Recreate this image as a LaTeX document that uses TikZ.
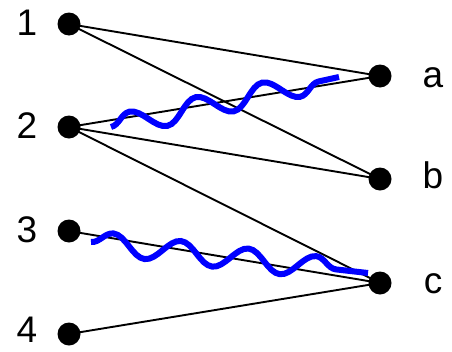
\documentclass[tikz,border=0pt]{standalone}
\usepackage{fontspec}
\setmainfont{Liberation Sans}
\usetikzlibrary{decorations.pathmorphing}

\begin{document}
\begin{tikzpicture}[x=1pt,y=-1pt,
  dot/.style={circle,fill=black,inner sep=0pt,minimum size=23pt},
  lbl/.style={anchor=base,inner sep=0pt,font=\fontsize{37}{37}\selectfont},
  edge/.style={black,line width=1.9pt},
  wave/.style={blue,line width=6pt,decorate,decoration={snake,segment length=68pt,amplitude=11pt}}]
  \useasboundingbox (0,0) rectangle (452,351);
  \node[dot] (n1) at (69,24) {};
  \node[dot] (n2) at (69,127) {};
  \node[dot] (n3) at (69,231) {};
  \node[dot] (n4) at (69,334) {};
  \node[dot] (na) at (380,76) {};
  \node[dot] (nb) at (380,179) {};
  \node[dot] (nc) at (380,283) {};
  \node[lbl] (l1) at (27,35) {1};
  \node[lbl] (l2) at (27,138) {2};
  \node[lbl] (l3) at (27,242) {3};
  \node[lbl] (l4) at (27,342) {4};
  \node[lbl] (la) at (433,87) {a};
  \node[lbl] (lb) at (433,188) {b};
  \node[lbl] (lc) at (433,293) {c};
  \draw[edge] (n1.center) -- (na.center);
  \draw[edge] (n1.center) -- (nb.center);
  \draw[edge] (n2.center) -- (na.center);
  \draw[edge] (n2.center) -- (nb.center);
  \draw[edge] (n2.center) -- (nc.center);
  \draw[edge] (n3.center) -- (nc.center);
  \draw[edge] (n4.center) -- (nc.center);
  % wavy marks
  \coordinate (w1s) at (111,127);
  \coordinate (w1e) at (339,77);
  \coordinate (w2s) at (91,242);
  \coordinate (w2e) at (368,273);
  \draw[wave] (w1s) -- (w1e);
  \draw[wave] (w2s) -- (w2e);
\end{tikzpicture}
\end{document}
